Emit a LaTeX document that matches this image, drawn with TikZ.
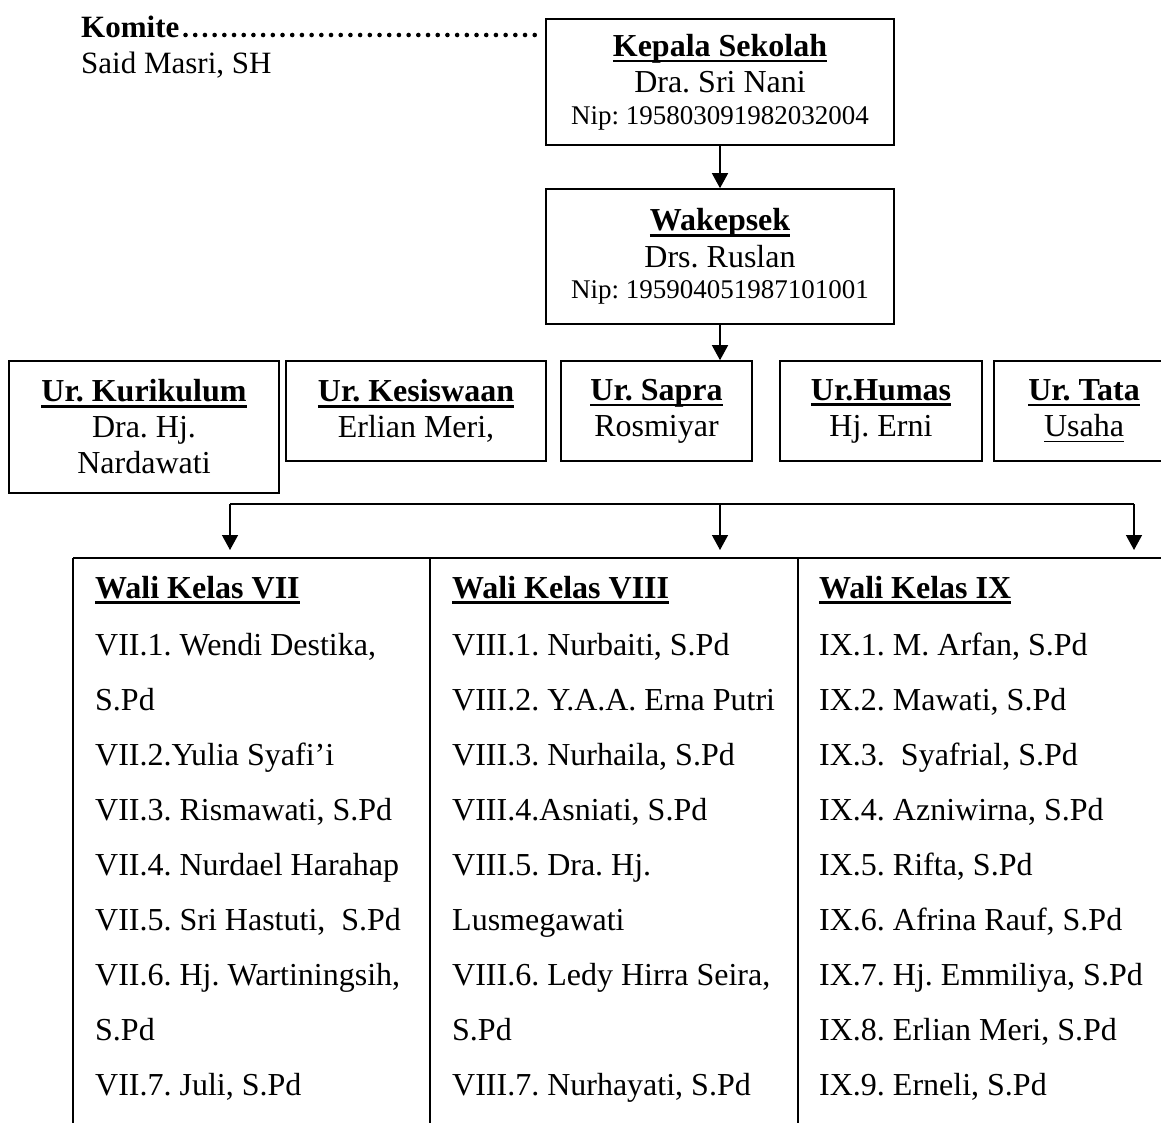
\documentclass[tikz,border=0pt]{standalone}
\usepackage{fontspec}
\setmainfont{Liberation Serif}
\usetikzlibrary{arrows.meta,calc}
\frenchspacing
\newcommand{\undl}[2][2.6pt]{\leavevmode\setbox0\hbox{#2}\rlap{\rule[-6pt]{\wd0}{#1}}\box0}
\tikzstyle{orgbox}=[
  draw,line width=1.6pt,inner sep=0pt,align=center,font=\fontsize{32}{36}\selectfont
]
\tikzstyle{rowtext}=[
  anchor=base west,inner sep=0pt,font=\fontsize{32}{36}\selectfont
]
\tikzstyle{link}=[
  line width=1.4pt,-{Triangle[length=15pt,width=16pt]}
]
\tikzstyle{tabline}=[
  line width=1.6pt
]
\tikzstyle{komitedots}=[
  line width=4.6pt,line cap=round,dash pattern=on 0pt off 9.7pt
]

\begin{document}
\begin{tikzpicture}[x=1pt,y=-1pt]
    \clip (0,0) rectangle (1161,1122);
    % komite
    \node (komite) at (81,37) [rowtext,font=\fontsize{31}{35}\selectfont\bfseries] {Komite};
    \node (komitename) at (81,73) [rowtext,font=\fontsize{31}{35}\selectfont] {Said Masri, SH};
    % pimpinan
    \node (kepsek) at (720,82) [orgbox,minimum width=348,minimum height=126]
      {\undl{\textbf{Kepala Sekolah}}\\Dra. Sri Nani\\[-4pt]{\fontsize{27}{32}\selectfont Nip: 195803091982032004}};
    \node (wakasek) at (720,256.5) [orgbox,minimum width=348,minimum height=135]
      {\undl{\textbf{Wakepsek}}\\[1pt]Drs. Ruslan\\[-5pt]{\fontsize{27}{32}\selectfont Nip: 195904051987101001}};
    % urusan
    \node (kurikulum) at (144,427) [orgbox,minimum width=270,minimum height=132]
      {\undl{\textbf{Ur. Kurikulum}}\\Dra. Hj.\\Nardawati};
    \node (kesiswaan) at (416,411) [orgbox,minimum width=260,minimum height=100]
      {\undl{\textbf{Ur. Kesiswaan}}\\Erlian Meri,};
    \node (sapra) at (656.5,411) [orgbox,minimum width=191,minimum height=100]
      {\undl{\textbf{Ur. Sapra}}\\Rosmiyar};
    \node (humas) at (881,411) [orgbox,minimum width=202,minimum height=100]
      {\undl{\textbf{Ur.Humas}}\\Hj. Erni};
    \node (tatausaha) at (1084,411) [orgbox,minimum width=180,minimum height=100]
      {\undl{\textbf{Ur. Tata}}\\\undl[1.8pt]{Usaha}};
    \draw [komitedots] ($(komite.base east)+(6,-2)$) -- ($(komite.base east -| kepsek.west)+(-6,-2)$);
    \draw [link] (kepsek.south) -- (wakasek.north);
    \draw [link] (wakasek.south) -- (wakasek.south |- sapra.north);
    % wali kelas
    \coordinate (busleft) at (230,504);
    \coordinate (busmid) at (720,504);
    \coordinate (busright) at (1134,504);
    \coordinate (tabletop) at (0,558);
    \draw [line width=1.4pt] (busleft) -- (busright);
    \foreach \p in {busleft,busmid,busright}
      \draw [link,shorten >=8pt] (\p) -- (\p |- tabletop);
    \draw [tabline] (73,558) -- (1175,558);
    \foreach \x in {73,430,798}
      \draw [tabline] (\x,558) -- (\x,1130);
    \node (wk7) at (95,598) [rowtext] {\undl{\textbf{Wali Kelas VII}}};
    \node (wk8) at (452,598) [rowtext] {\undl{\textbf{Wali Kelas VIII}}};
    \node (wk9) at (819,598) [rowtext] {\undl{\textbf{Wali Kelas IX}}};
    \foreach \t [count=\i] in {{VII.1. Wendi Destika,},S.Pd,VII.2.Yulia Syafi’i,{VII.3. Rismawati, S.Pd},
        VII.4. Nurdael Harahap,{VII.5. Sri Hastuti,\ \ S.Pd},{VII.6. Hj. Wartiningsih,},S.Pd,{VII.7. Juli, S.Pd}}
      \node (wk7r\i) at (95,{600+55*\i}) [rowtext] {\t};
    \foreach \t [count=\i] in {{VIII.1. Nurbaiti, S.Pd},VIII.2. Y.A.A. Erna Putri,{VIII.3. Nurhaila, S.Pd},
        {VIII.4.Asniati, S.Pd},VIII.5. Dra. Hj.,Lusmegawati,{VIII.6. Ledy Hirra Seira,},S.Pd,{VIII.7. Nurhayati, S.Pd}}
      \node (wk8r\i) at (452,{600+55*\i}) [rowtext] {\t};
    \foreach \t [count=\i] in {{IX.1. M. Arfan, S.Pd},{IX.2. Mawati, S.Pd},{IX.3.\ \ Syafrial, S.Pd},
        {IX.4. Azniwirna, S.Pd},{IX.5. Rifta, S.Pd},{IX.6. Afrina Rauf, S.Pd},{IX.7. Hj. Emmiliya, S.Pd},
        {IX.8. Erlian Meri, S.Pd},{IX.9. Erneli, S.Pd}}
      \node (wk9r\i) at (819,{600+55*\i}) [rowtext] {\t};
\end{tikzpicture}
\end{document}
